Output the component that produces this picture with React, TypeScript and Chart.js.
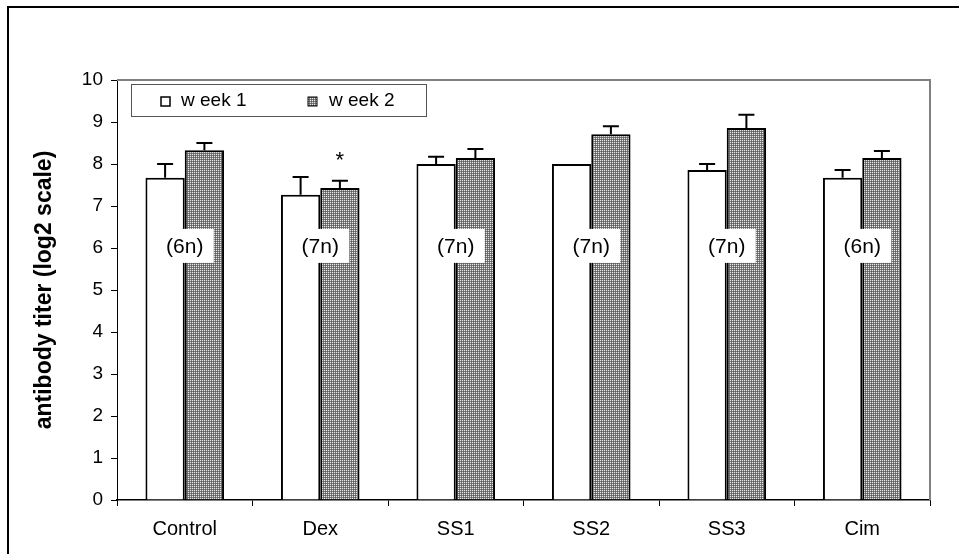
import React, { useEffect, useRef } from "react";
import { Chart, registerables } from "chart.js";

Chart.register(...registerables);

const categories = ["Control", "Dex", "SS1", "SS2", "SS3", "Cim"];
const week1 = [7.67, 7.27, 8.0, 8.0, 7.86, 7.67];
const week1Err = [0.33, 0.42, 0.17, 0, 0.14, 0.19];
const week2 = [8.33, 7.43, 8.14, 8.71, 8.86, 8.14];
const week2Err = [0.17, 0.17, 0.22, 0.19, 0.31, 0.17];
const nLabels = ["(6n)", "(7n)", "(7n)", "(7n)", "(7n)", "(6n)"];
const nLabelValue = 6.05;
const stars = ["", "*", "", "", "", ""];
const seriesNames = ["w eek 1", "w eek 2"];
const yTicks = [0, 1, 2, 3, 4, 5, 6, 7, 8, 9, 10];
const yTitle = "antibody titer (log2 scale)";

const FONT = "'Liberation Sans', Arial, sans-serif";

function makePattern(): CanvasPattern | string {
  const c = document.createElement("canvas");
  c.width = 2;
  c.height = 2;
  const g = c.getContext("2d");
  if (!g) return "#909090";
  g.fillStyle = "#7a7a7a";
  g.fillRect(0, 0, 2, 2);
  g.fillStyle = "#e8e8e8";
  g.fillRect(0, 0, 1, 1);
  g.fillStyle = "#5e5e5e";
  g.fillRect(1, 1, 1, 1);
  const p = g.createPattern(c, "repeat");
  return p || "#909090";
}

export default function App() {
  const ref = useRef<HTMLCanvasElement | null>(null);

  useEffect(() => {
    const canvas = ref.current;
    if (!canvas) return;
    const pattern = makePattern();
    const errs = [week1Err, week2Err];

    const overlay = {
      id: "overlay",
      beforeDraw(chart: any) {
        const ctx = chart.ctx;
        ctx.save();
        ctx.fillStyle = "#fff";
        ctx.fillRect(0, 0, chart.width, chart.height);
        ctx.strokeStyle = "#000";
        ctx.lineWidth = 2;
        ctx.beginPath();
        ctx.moveTo(8, chart.height + 5);
        ctx.lineTo(8, 7);
        ctx.lineTo(chart.width + 5, 7);
        ctx.stroke();
        ctx.restore();
      },
      afterDatasetsDraw(chart: any) {
        const ctx = chart.ctx;
        const ca = chart.chartArea;
        const y = chart.scales.y;
        ctx.save();
        ctx.strokeStyle = "#808080";
        ctx.lineWidth = 2;
        ctx.beginPath();
        ctx.moveTo(ca.left, ca.top);
        ctx.lineTo(ca.right, ca.top);
        ctx.lineTo(ca.right, ca.bottom);
        ctx.stroke();

        ctx.strokeStyle = "#000";
        ctx.lineWidth = 2;
        [0, 1].forEach((di) => {
          const meta = chart.getDatasetMeta(di);
          const vals = chart.data.datasets[di].data as number[];
          meta.data.forEach((bar: any, i: number) => {
            const e = errs[di][i];
            if (!e) return;
            const y0 = y.getPixelForValue(vals[i]);
            const y1 = y.getPixelForValue(vals[i] + e);
            ctx.beginPath();
            ctx.moveTo(bar.x, y0);
            ctx.lineTo(bar.x, y1);
            ctx.moveTo(bar.x - 8, y1);
            ctx.lineTo(bar.x + 8, y1);
            ctx.stroke();
            if (di === 1 && stars[i]) {
              ctx.fillStyle = "#000";
              ctx.font = `22px ${FONT}`;
              ctx.textAlign = "center";
              ctx.textBaseline = "middle";
              ctx.fillText(stars[i], bar.x, y1 - 20);
            }
          });
        });

        const x = chart.scales.x;
        ctx.font = `21px ${FONT}`;
        ctx.textAlign = "center";
        ctx.textBaseline = "middle";
        nLabels.forEach((t, i) => {
          const cx = x.getPixelForValue(i);
          const cy = y.getPixelForValue(nLabelValue);
          ctx.fillStyle = "#fff";
          ctx.fillRect(cx - 29, cy - 17, 58, 34);
          ctx.fillStyle = "#000";
          ctx.fillText(t, cx, cy + 1);
        });

        const lx = 131, ly = 84, lw = 295, lh = 32;
        ctx.fillStyle = "#fff";
        ctx.fillRect(lx, ly, lw, lh);
        ctx.strokeStyle = "#555";
        ctx.lineWidth = 1;
        ctx.strokeRect(lx + 0.5, ly + 0.5, lw, lh);
        ctx.font = `19px ${FONT}`;
        ctx.textAlign = "left";
        ctx.textBaseline = "middle";
        const my = ly + lh / 2 + 1;
        ctx.fillStyle = "#fff";
        ctx.fillRect(161, my - 4, 9, 9);
        ctx.strokeStyle = "#000";
        ctx.lineWidth = 1.5;
        ctx.strokeRect(161, my - 4, 9, 9);
        ctx.fillStyle = "#000";
        ctx.fillText(seriesNames[0], 181, my);
        ctx.fillStyle = pattern as any;
        ctx.fillRect(308, my - 4, 9, 9);
        ctx.strokeStyle = "#000";
        ctx.lineWidth = 1;
        ctx.strokeRect(308, my - 4, 9, 9);
        ctx.fillStyle = "#000";
        ctx.fillText(seriesNames[1], 329, my);
        ctx.restore();
      },
    };

    const chart = new Chart(canvas, {
      type: "bar",
      data: {
        labels: categories,
        datasets: [
          {
            label: seriesNames[0],
            data: week1,
            backgroundColor: "#ffffff",
            borderColor: "#000000",
            borderWidth: 2,
            categoryPercentage: 0.58,
            barPercentage: 1.0,
          },
          {
            label: seriesNames[1],
            data: week2,
            backgroundColor: pattern as any,
            borderColor: "#000000",
            borderWidth: 2,
            categoryPercentage: 0.58,
            barPercentage: 1.0,
          },
        ],
      },
      options: {
        responsive: false,
        animation: false,
        devicePixelRatio: 1,
        layout: { padding: { left: 0, top: 80, right: 29, bottom: 0 } },
        plugins: {
          legend: { display: false },
          tooltip: { enabled: false },
          title: { display: false },
        },
        scales: {
          x: {
            grid: {
              offset: true,
              drawOnChartArea: false,
              drawTicks: true,
              tickLength: 6,
              color: "#000",
            },
            border: { color: "#000", width: 1.5 },
            ticks: {
              color: "#000",
              font: { family: FONT, size: 20 },
              padding: 11,
            },
            afterFit(scale: any) {
              scale.height = 54;
            },
          },
          y: {
            min: 0,
            max: 10,
            afterBuildTicks(scale: any) {
              scale.ticks = yTicks.map((v) => ({ value: v }));
            },
            grid: {
              drawOnChartArea: false,
              drawTicks: true,
              tickLength: 6,
              color: "#000",
            },
            border: { color: "#000", width: 1 },
            ticks: {
              color: "#000",
              font: { family: FONT, size: 19 },
              padding: 8,
            },
            title: {
              display: true,
              text: yTitle,
              color: "#000",
              font: { family: FONT, size: 23, weight: "bold" },
              padding: { top: 31, bottom: 0 },
            },
            afterFit(scale: any) {
              scale.width = 117;
            },
          },
        },
      },
      plugins: [overlay],
    });

    return () => chart.destroy();
  }, []);

  return (
    <div style={{ position: "fixed", left: 0, top: 0, width: 959, height: 554, background: "#fff" }}>
      <canvas ref={ref} width={959} height={554} style={{ display: "block" }} />
    </div>
  );
}
